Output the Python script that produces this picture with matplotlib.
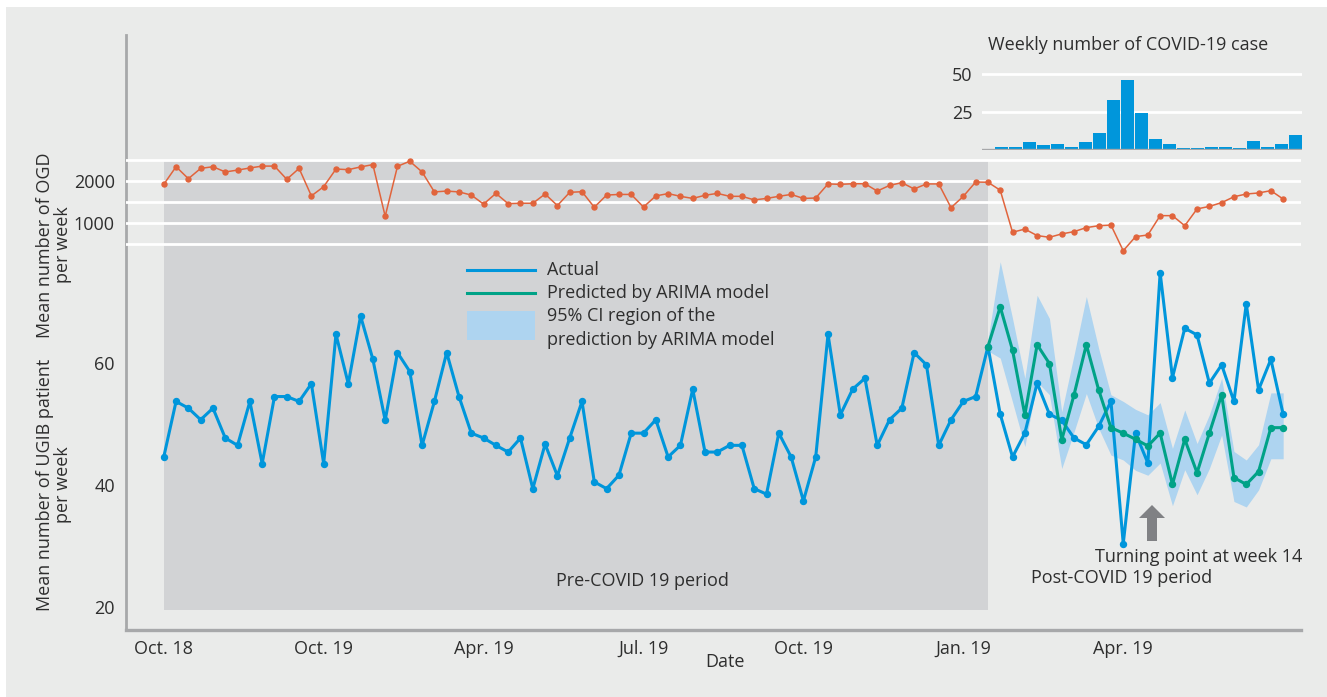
import matplotlib
matplotlib.use("Agg")
import matplotlib.pyplot as plt
from matplotlib.patches import Rectangle, FancyArrow
from matplotlib.lines import Line2D
import numpy as np

plt.rcParams['font.family'] = ['Open Sans', 'DejaVu Sans']

# weekly UGIB patients (actual), Oct. 18 onwards
ugib_actual = [
    44.6, 53.7, 52.6, 50.7, 52.6, 47.7, 46.5, 53.7, 43.5, 54.5,
    54.5, 53.7, 56.6, 43.5, 64.7, 56.6, 67.7, 60.6, 50.6, 61.7,
    58.6, 46.5, 53.7, 61.7, 54.5, 48.5, 47.7, 46.5, 45.4, 47.7,
    39.4, 46.7, 41.5, 47.7, 53.7, 40.5, 39.4, 41.6, 48.5, 48.5,
    50.7, 44.6, 46.5, 55.7, 45.4, 45.4, 46.5, 46.5, 39.4, 38.5,
    48.5, 44.6, 37.4, 44.6, 64.7, 51.5, 55.7, 57.5, 46.5, 50.7,
    52.6, 61.7, 59.7, 46.5, 50.7, 53.7, 54.5, 62.7, 51.6, 44.6,
    48.5, 56.7, 51.6, 50.6, 47.7, 46.6, 49.6, 53.7, 30.4, 48.5,
    43.6, 74.8, 57.6, 65.7, 64.6, 56.7, 59.7, 53.7, 69.7, 55.6,
    60.6, 51.6,
]

# ARIMA prediction for the post-COVID weeks (week 67 onwards)
pred_start = 67
ugib_pred = [62.7, 69.2, 62.1, 51.5, 63.0, 59.9, 47.4, 54.8, 63.0, 55.6,
             49.4, 48.5, 47.5, 46.4, 48.5, 40.1, 47.5, 42.0, 48.5, 54.8,
             41.2, 40.1, 42.2, 49.4, 49.4]
ci_upper = [63.8, 76.6, 67.3, 57.5, 71.1, 67.3, 52.0, 61.3, 70.9, 62.4,
            54.8, 53.7, 52.4, 51.5, 53.5, 46.0, 52.3, 46.8, 51.5, 57.5,
            45.5, 44.1, 46.6, 55.1, 55.1]
ci_lower = [62.0, 60.8, 53.6, 46.3, 56.9, 54.8, 42.7, 48.7, 55.0, 49.3,
            44.9, 44.1, 42.4, 41.6, 43.6, 36.6, 42.5, 38.4, 42.7, 48.2,
            37.3, 36.4, 39.2, 44.3, 44.3]

# weekly OGD
ogd = [
    1920, 2340, 2055, 2300, 2340, 2215, 2260, 2310, 2355, 2355,
    2040, 2300, 1645, 1865, 2285, 2270, 2335, 2390, 1160, 2350,
    2470, 2215, 1740, 1760, 1740, 1665, 1450, 1705, 1460, 1470,
    1470, 1690, 1415, 1730, 1745, 1375, 1665, 1680, 1680, 1380,
    1645, 1700, 1635, 1585, 1660, 1705, 1635, 1635, 1550, 1585,
    1635, 1680, 1585, 1595, 1930, 1920, 1935, 1935, 1760, 1895,
    1960, 1810, 1930, 1930, 1365, 1635, 1975, 1970, 1780, 780,
    855, 700, 660, 740, 795, 890, 935, 950, 340, 675,
    715, 1175, 1175, 935, 1335, 1395, 1485, 1625, 1690, 1715,
    1770, 1570,
]

# weekly COVID-19 cases (inset)
covid_cases = [2, 2, 5, 3, 4, 2, 5, 11, 33, 46, 24, 7, 4, 1.5, 1.5,
               2, 2, 1.5, 6, 2, 4, 10]

tick_weeks = [0, 13, 26, 39, 52, 65, 78]
tick_labels = ['Oct. 18', 'Oct. 19', 'Apr. 19', 'Jul. 19', 'Oct. 19', 'Jan. 19', 'Apr. 19']

BLUE = '#0096DB'
GREEN = '#00A287'
BAND = '#AED4F0'
ORANGE = '#E1643C'
PRE_GREY = '#D2D3D5'
BG = '#EAEBEA'
SPINE = '#A7A8AA'
TXT = '#2e2e2e'
FS = 13

W, H = 1327, 697


def fx(px):
    return px / W


def fy(py):
    return 1 - py / H


fig = plt.figure(figsize=(W / 100, H / 100), dpi=100)
fig.patch.set_facecolor('white')
fig.patches.append(Rectangle((fx(6), 0), 1, fy(7), transform=fig.transFigure,
                             facecolor=BG, edgecolor='none', zorder=-10))

weeks = np.arange(len(ugib_actual))
pred_weeks = np.arange(pred_start, pred_start + len(ugib_pred))
xlim = (-3.07, 92.45)

# main UGIB axes
ax = fig.add_axes([fx(126), fy(630), fx(1301) - fx(126), fy(35) - fy(630)])
ax.set_facecolor('none')
ax.set_xlim(*xlim)
ax.set_ylim(16.23, 113.77)
for s in ['top', 'right']:
    ax.spines[s].set_visible(False)
ax.spines['left'].set_color(SPINE)
ax.spines['left'].set_linewidth(2.0)
ax.spines['bottom'].set_color(SPINE)
ax.spines['bottom'].set_linewidth(2.4)
ax.set_yticks([20, 40, 60])
ax.set_xticks(tick_weeks)
ax.set_xticklabels(tick_labels)
ax.tick_params(length=0, labelsize=FS, colors=TXT, pad=8)
ax.tick_params(axis='x', pad=7)

# pre-COVID shaded period
ax.axvspan(0, pred_start, ymin=(630 - 610) / 595, ymax=(630 - 160) / 595,
           color=PRE_GREY, zorder=0, lw=0)

ax.fill_between(pred_weeks, ci_lower, ci_upper, color=BAND, lw=0, zorder=1)
ax.plot(weeks, ugib_actual, color=BLUE, lw=2.2, marker='o', ms=4.3, zorder=3)
ax.plot(pred_weeks, ugib_pred, color=GREEN, lw=2.2, marker='o', ms=4.3, zorder=4)

# OGD axes on top
ax2 = fig.add_axes([fx(126), fy(260), fx(1301) - fx(126), fy(150) - fy(260)])
ax2.set_facecolor('none')
ax2.set_xlim(*xlim)
ax2.set_ylim(119, 2738)
for s in ax2.spines.values():
    s.set_visible(False)
ax2.set_xticks([])
ax2.set_yticks([1000, 2000])
ax2.tick_params(length=0, labelsize=FS, colors=TXT, pad=8)
for v in [500, 1000, 1500, 2000, 2500]:
    ax2.axhline(v, color='white', lw=2.0, zorder=1)
ax2.plot(weeks, ogd, color=ORANGE, lw=1.1, marker='o', ms=3.6, zorder=3)

# COVID-19 inset
ax3 = fig.add_axes([fx(982), fy(150), fx(1302) - fx(982), fy(66) - fy(150)])
ax3.set_facecolor('none')
ax3.set_xlim(-1.38, 21.48)
ax3.set_ylim(0, 55)
for s in ax3.spines.values():
    s.set_visible(False)
ax3.set_xticks([])
ax3.set_yticks([25, 50])
ax3.tick_params(length=0, labelsize=FS, colors=TXT, pad=7)
for v in [25, 50]:
    ax3.axhline(v, color='white', lw=2.0, zorder=0)
ax3.bar(np.arange(len(covid_cases)), covid_cases, width=0.93, color=BLUE, zorder=2)
ax3.axhline(0, color=SPINE, lw=2.4, zorder=3)
fig.text(fx(988), fy(45), 'Weekly number of COVID-19 case', fontsize=FS,
         color=TXT, ha='left', va='center')

# axis labels
fig.text(fx(54), fy(245), 'Mean number of OGD\nper week', rotation=90,
         ha='center', va='center', fontsize=FS, color=TXT, linespacing=0.95,
         multialignment='center')
fig.text(fx(54), fy(485), 'Mean number of UGIB patient\nper week', rotation=90,
         ha='center', va='center', fontsize=FS, color=TXT, linespacing=0.95,
         multialignment='center')
fig.text(fx(725), fy(662), 'Date', ha='center', va='center', fontsize=FS, color=TXT)

# legend (drawn by hand)
fig.lines.append(Line2D([fx(467), fx(535)], [fy(270), fy(270)], transform=fig.transFigure,
                        color=BLUE, lw=2.2))
fig.lines.append(Line2D([fx(467), fx(535)], [fy(293), fy(293)], transform=fig.transFigure,
                        color=GREEN, lw=2.2))
fig.patches.append(Rectangle((fx(467), fy(340)), fx(535) - fx(467), fy(311) - fy(340),
                             transform=fig.transFigure, facecolor=BAND, edgecolor='none'))
for label, y in [('Actual', 270), ('Predicted by ARIMA model', 293),
                 ('95% CI region of the', 316), ('prediction by ARIMA model', 340)]:
    fig.text(fx(547), fy(y), label, ha='left', va='center', fontsize=FS, color=TXT)

# annotations
fig.text(fx(642), fy(581), 'Pre-COVID 19 period', ha='center', va='center',
         fontsize=FS, color=TXT)
fig.text(fx(1095), fy(557), 'Turning point at week 14', ha='left', va='center',
         fontsize=FS, color=TXT)
fig.text(fx(1031), fy(578), 'Post-COVID 19 period', ha='left', va='center',
         fontsize=FS, color=TXT)
fig.patches.append(FancyArrow(fx(1152), fy(541), 0, fy(505) - fy(541),
                              width=fx(10), head_width=fx(26), head_length=fy(505) - fy(518),
                              length_includes_head=True, transform=fig.transFigure,
                              color='#808184', lw=0))

fig.savefig('out.png', dpi=100, facecolor=fig.get_facecolor())
